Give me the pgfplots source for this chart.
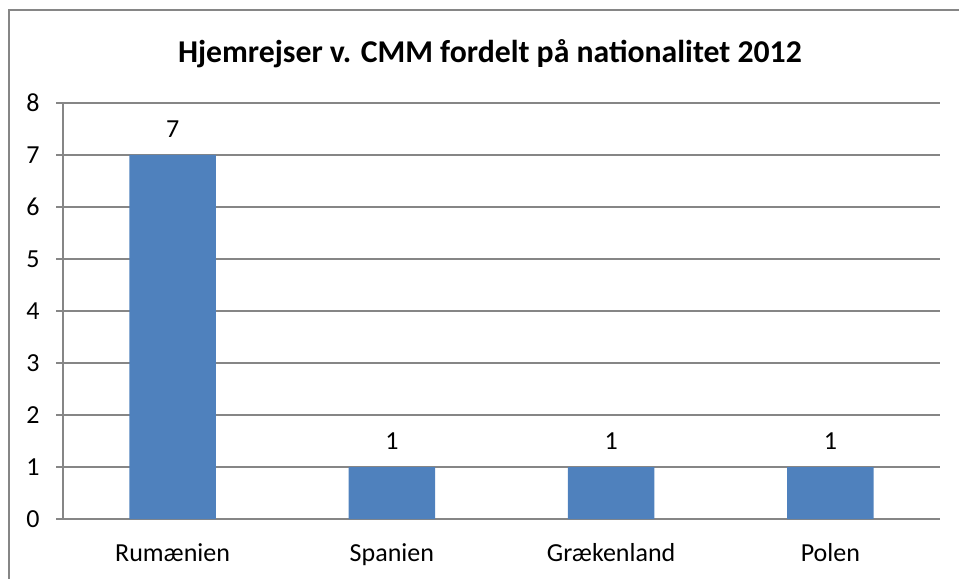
\documentclass[border=0pt]{standalone}
\usepackage{pgfplots}
\pgfplotsset{compat=1.18}
\usepackage{fontspec}
\setmainfont{Carlito}
\definecolor{barblue}{HTML}{4F81BD}
\definecolor{gridgray}{HTML}{868686}
\begin{document}
\begin{tikzpicture}
\useasboundingbox (0pt,0pt) rectangle (719.25pt,433.5pt);
\draw[gridgray, line width=1.2pt] (6.75pt,-20pt) rectangle (750pt,426pt);
\node[font=\fontsize{23.8}{28}\selectfont\bfseries] at (367.5pt,393pt) {Hjemrejser v. CMM fordelt på nationalitet 2012};
\begin{axis}[
  at={(47.25pt,44.25pt)}, anchor=south west,
  scale only axis, width=657.75pt, height=312pt,
  xmin=0, xmax=4, ymin=0, ymax=8,
  axis x line*=bottom, axis y line*=left,
  axis line style={gridgray, line width=0.9pt},
  xtick={0.5,1.5,2.5,3.5},
  xticklabels={Rumænien,Spanien,Grækenland,Polen},
  major x tick style={draw=none},
  extra x ticks={0,1,2,3,4},
  extra x tick labels={},
  extra x tick style={major tick length=6pt, tick align=outside, tick style={gridgray, line width=0.9pt}},
  ytick={0,1,...,8},
  ymajorgrids,
  grid style={gridgray, line width=0.9pt},
  tick align=outside,
  major tick length=5pt,
  tick style={gridgray, line width=0.9pt},
  ticklabel style={font=\fontsize{19.5}{23}\selectfont, text=black},
  /pgf/number format/assume math mode=true,
  yticklabel style={xshift=-9pt},
  xticklabel style={yshift=-10pt},
  ybar, bar width=65pt,
  nodes near coords,
  nodes near coords style={font=\fontsize{19.5}{23}\selectfont, text=black, yshift=9.5pt},
  clip=false,
]
\addplot[fill=barblue, draw=none] coordinates {(0.5,7) (1.5,1) (2.5,1) (3.5,1)};
\end{axis}
\end{tikzpicture}
\end{document}
